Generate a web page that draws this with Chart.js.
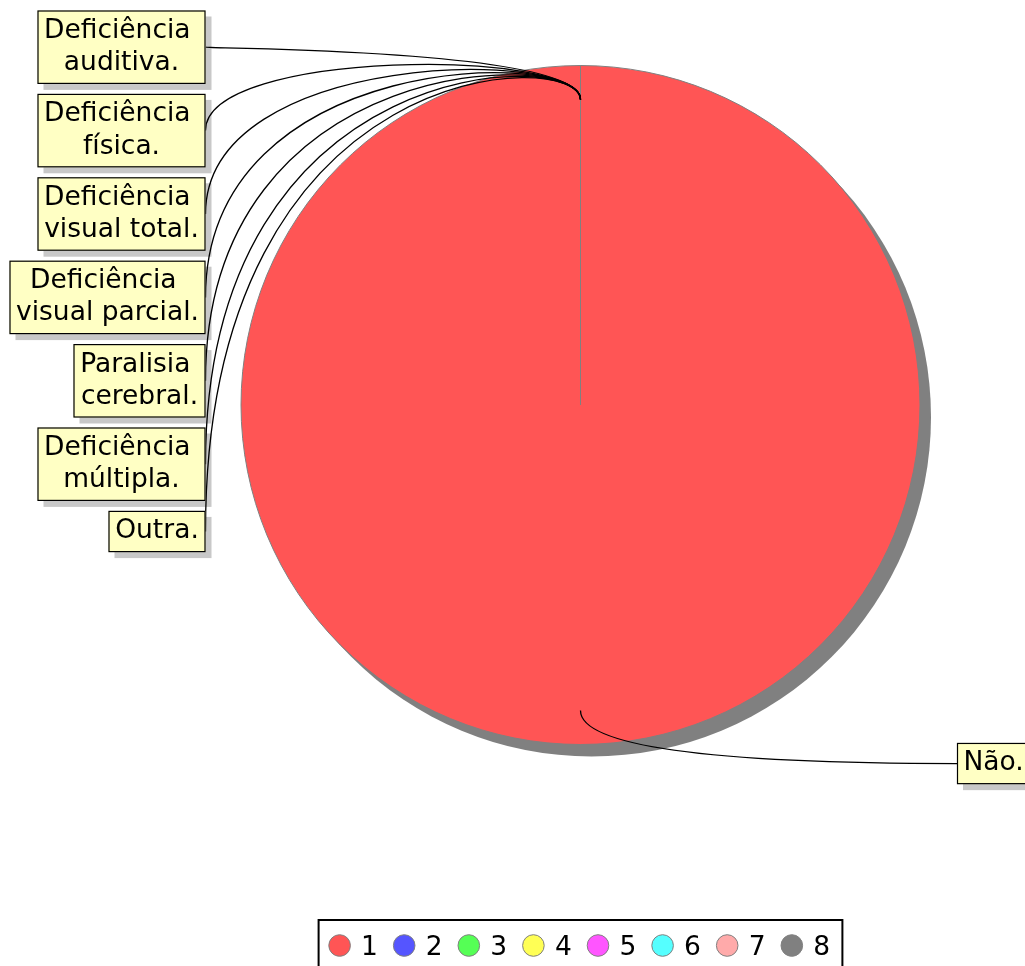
<!DOCTYPE html>
<html><head><meta charset="utf-8">
<script src="https://cdn.jsdelivr.net/npm/chart.js@4/dist/chart.umd.min.js"></script>
<style>html,body{margin:0;padding:0;background:#fff;overflow:hidden}#wrap{width:1025px;height:966px;position:relative}</style>
</head><body><div id="wrap"><canvas id="c" width="1025" height="966"></canvas></div>
<script>
const categories = ['Não.','Deficiência auditiva.','Deficiência física.','Deficiência visual total.','Deficiência visual parcial.','Paralisia cerebral.','Deficiência múltipla.','Outra.'];
const values = [100, 0, 0, 0, 0, 0, 0, 0];
const legendLabels = ['1','2','3','4','5','6','7','8'];
const colors = ['#ff5555','#5555ff','#55ff55','#ffff55','#ff55ff','#55ffff','#ffaaaa','#808080'];

const FONT = '26.5px "DejaVu Sans"';
const LINE_H = 32.2;

function wrapText(ctx, text, maxW) {
  const words = text.split(' ');
  const lines = []; let cur = '';
  for (const w of words) {
    const test = cur ? cur + ' ' + w : w;
    if (cur && ctx.measureText(test).width > maxW) { lines.push(cur + ' '); cur = w; }
    else cur = test;
  }
  lines.push(cur);
  return lines;
}
function boxSize(ctx, lines) {
  let w = 0; lines.forEach(l => { w = Math.max(w, ctx.measureText(l).width); });
  return { w: Math.round(w + 13), h: lines.length * LINE_H + 9 };
}
function drawShadow(ctx, it) {
  ctx.fillStyle = '#c8c8c8'; ctx.fillRect(it.x + 6, it.y + 6, it.w, it.h);
}
function drawBox(ctx, it) {
  const { x, y, w, h, lines } = it;
  ctx.fillStyle = '#ffffc4'; ctx.fillRect(x, y, w, h);
  ctx.strokeStyle = '#000'; ctx.lineWidth = 1.2; ctx.strokeRect(x + 0.5, y + 0.5, w - 1, h - 1);
  ctx.fillStyle = '#000'; ctx.textAlign = 'center'; ctx.textBaseline = 'middle';
  lines.forEach((l, i) => ctx.fillText(l, x + w / 2, y + 4.5 + LINE_H / 2 + i * LINE_H));
}

const shadowPlugin = {
  id: 'pieShadow',
  beforeDatasetsDraw(chart) {
    const arc = chart.getDatasetMeta(0).data[0];
    if (!arc) return;
    const { x, y, outerRadius } = arc.getProps(['x', 'y', 'outerRadius'], true);
    const ctx = chart.ctx;
    ctx.save();
    ctx.fillStyle = '#808080';
    ctx.beginPath(); ctx.arc(x + 11, y + 12, outerRadius, 0, Math.PI * 2); ctx.fill();
    ctx.restore();
  }
};

const calloutPlugin = {
  id: 'callouts',
  afterDatasetsDraw(chart) {
    const ctx = chart.ctx;
    const area = chart.chartArea;
    const meta = chart.getDatasetMeta(0);
    ctx.save();
    ctx.font = FONT;
    const items = meta.data.map((arc, i) => {
      const p = arc.getProps(['x', 'y', 'startAngle', 'endAngle', 'outerRadius'], true);
      const mid = (p.startAngle + p.endAngle) / 2;
      const ax = p.x + Math.cos(mid) * p.outerRadius * 0.9;
      const ay = p.y + Math.sin(mid) * p.outerRadius * 0.9;
      const lines = wrapText(ctx, categories[i], 190);
      const sz = boxSize(ctx, lines);
      return { i, ax, ay, r: p.outerRadius, lines, w: sz.w, h: sz.h, right: values[i] > 0 };
    });
    let ty = area.top - 54.5;
    const leftEdge = area.left - 34.5;
    items.forEach(it => {
      if (it.right) {
        it.x = area.right + 36;
        it.y = it.ay + 53 - it.h / 2;
      } else {
        it.x = leftEdge - it.w;
        it.y = ty;
        ty += it.h + 10;
      }
    });
    items.forEach(it => drawShadow(ctx, it));
    ctx.strokeStyle = '#000'; ctx.lineWidth = 1.3;
    items.forEach(it => {
      const my = it.y + it.h / 2;
      ctx.beginPath();
      if (it.right) {
        ctx.moveTo(it.ax, it.ay);
        ctx.quadraticCurveTo(it.ax, my, it.x, my);
      } else {
        const c = it.ay - it.r * 0.15;
        ctx.moveTo(leftEdge, my);
        ctx.bezierCurveTo(leftEdge, c, it.ax, c, it.ax, it.ay);
      }
      ctx.stroke();
    });
    items.forEach(it => drawBox(ctx, it));
    ctx.restore();
  },
  afterDraw(chart) {
    const ctx = chart.ctx;
    const area = chart.chartArea;
    const cx = (area.left + area.right) / 2;
    const itemW = 64.6;
    const w = legendLabels.length * itemW + 7;
    const left = cx - w / 2;
    const top = 920;
    ctx.save();
    ctx.strokeStyle = '#000'; ctx.lineWidth = 2;
    ctx.strokeRect(left, top, w, 60);
    ctx.font = FONT; ctx.textAlign = 'left'; ctx.textBaseline = 'alphabetic';
    legendLabels.forEach((lab, i) => {
      const x = left + 21 + i * itemW;
      ctx.beginPath(); ctx.arc(x, 945.5, 10.8, 0, Math.PI * 2);
      ctx.fillStyle = colors[i]; ctx.fill();
      ctx.strokeStyle = '#808080'; ctx.lineWidth = 1; ctx.stroke();
      ctx.fillStyle = '#000';
      ctx.fillText(lab, x + 21.5, 955);
    });
    ctx.restore();
  }
};

new Chart(document.getElementById('c'), {
  type: 'pie',
  data: {
    labels: categories,
    datasets: [{ data: values, backgroundColor: colors, borderColor: '#808080', borderWidth: 1 }]
  },
  options: {
    responsive: false,
    devicePixelRatio: 1,
    animation: false,
    layout: { padding: { left: 240, right: 104, top: 65, bottom: 221 } },
    plugins: { legend: { display: false }, tooltip: { enabled: false } }
  },
  plugins: [shadowPlugin, calloutPlugin]
});
</script>
</body></html>
